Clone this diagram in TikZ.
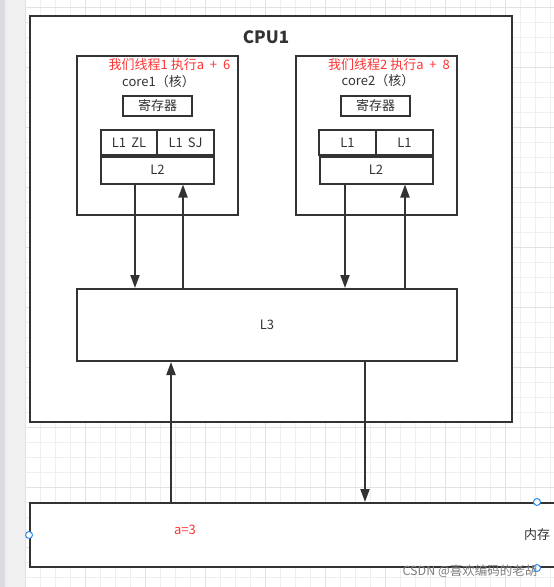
\documentclass[tikz,border=0pt]{standalone}
\usepackage{fontspec}
\setmainfont{Noto Sans CJK SC}
\usetikzlibrary{arrows.meta}
\definecolor{ink}{HTML}{333333}
\definecolor{redt}{HTML}{FF3333}
\definecolor{gridminor}{HTML}{EFEFEF}
\definecolor{gridmajor}{HTML}{E2E2E2}
\definecolor{strip}{HTML}{F0F0F0}
\definecolor{stripdark}{HTML}{DCDCE0}
\definecolor{handle}{HTML}{2D8CF0}
\tikzset{
  box/.style={draw=ink, line width=2pt, fill=white, rectangle, inner sep=0pt, text=ink, font=\fontsize{13}{15}\selectfont},
  lbl/.style={inner sep=0pt, text=ink, font=\fontsize{13}{15}\selectfont},
  redlbl/.style={inner sep=0pt, text=redt, font=\fontsize{13}{15}\selectfont},
  arr/.style={draw=ink, line width=2pt, -{Triangle[length=13pt,width=9pt]}},
  hdl/.style={circle, draw=handle, fill=white, line width=1pt, minimum size=7pt, inner sep=0pt},
}
\begin{document}
\begin{tikzpicture}[x=1pt,y=-1pt]
\clip (0,0) rectangle (554,587);
\useasboundingbox (0,0) rectangle (554,587);
% background grid
\fill[white] (0,0) rectangle (554,587);
\foreach \gx in {25,40,...,554} \draw[gridminor, line width=1pt] (\gx,0) -- (\gx,587);
\foreach \gy in {7,22,...,587} \draw[gridminor, line width=1pt] (25,\gy) -- (554,\gy);
\foreach \gx in {25,85,...,554} \draw[gridmajor, line width=1pt] (\gx,0) -- (\gx,587);
\foreach \gy in {7,67,...,587} \draw[gridmajor, line width=1pt] (25,\gy) -- (554,\gy);
\fill[strip] (0,0) rectangle (25,587);
\fill[stripdark] (0,0) rectangle (5,587);

% CPU
\node[box, minimum width=482pt, minimum height=406pt] (cpu) at (271,219) {};
\node[lbl, font=\fontsize{17}{20}\selectfont\bfseries] (cpulbl) at (266,37) {CPU1};

% core1
\node[box, minimum width=161pt, minimum height=159pt] (core1) at (157.5,135.5) {};
\node[redlbl] (t1) at (169.5,65) {我们线程1 执行a\hspace{0.45em}+\hspace{0.45em}6};
\node[lbl] (c1name) at (158.5,82) {core1（核）};
\node[box, minimum width=69pt, minimum height=20pt] (c1reg) at (157.5,106) {寄存器};
\node[box, minimum width=56pt, minimum height=25pt] (c1l1a) at (129,142.5) {L1\hspace{0.4em}ZL};
\node[box, minimum width=57pt, minimum height=25pt] (c1l1b) at (185.5,142.5) {L1\hspace{0.4em}SJ};
\node[box, minimum width=113pt, minimum height=27pt] (c1l2) at (157.5,170) {L2};

% core2
\node[box, minimum width=161pt, minimum height=159pt] (core2) at (376.5,135.5) {};
\node[redlbl] (t2) at (389,65) {我们线程2 执行a\hspace{0.45em}+\hspace{0.45em}8};
\node[lbl] (c2name) at (378,81) {core2（核）};
\node[box, minimum width=69pt, minimum height=20pt] (c2reg) at (375.5,106) {寄存器};
\node[box, minimum width=57pt, minimum height=25pt] (c2l1a) at (347.5,142.5) {L1};
\node[box, minimum width=57pt, minimum height=25pt] (c2l1b) at (404.5,142.5) {L1};
\node[box, minimum width=113pt, minimum height=27pt] (c2l2) at (376,170) {L2};

% L3
\node[box, minimum width=380pt, minimum height=72pt] (l3) at (267,325) {L3};

% memory
\node[box, minimum width=1014pt, minimum height=64pt] (mem) at (537,535) {内存};
\node[redlbl] (aval) at (185,530) {a=3};

% connector x positions
\coordinate (xa) at (135,0);
\coordinate (xb) at (183,0);
\coordinate (xc) at (345,0);
\coordinate (xd) at (405,0);
\coordinate (xe) at (171,0);
\coordinate (xf) at (365,0);

\draw[arr] (c1l2.south -| xa) -- (l3.north -| xa);
\draw[arr] (l3.north -| xb) -- (c1l2.south -| xb);
\draw[arr] (c2l2.south -| xc) -- (l3.north -| xc);
\draw[arr] (l3.north -| xd) -- (c2l2.south -| xd);
\draw[arr] (mem.north -| xe) -- (l3.south -| xe);
\draw[arr] (l3.south -| xf) -- (mem.north -| xf);

% selection handles
\node[hdl] (h1) at (mem.west) {};
\node[hdl] (h2) at (mem.north) {};
\node[hdl] (h3) at (mem.south) {};

% watermark
\node[inner sep=0pt, text=black!50, font=\fontsize{12.5}{14}\selectfont] (wm) at (470,571) {CSDN @喜欢编码的老胡};
\end{tikzpicture}
\end{document}
